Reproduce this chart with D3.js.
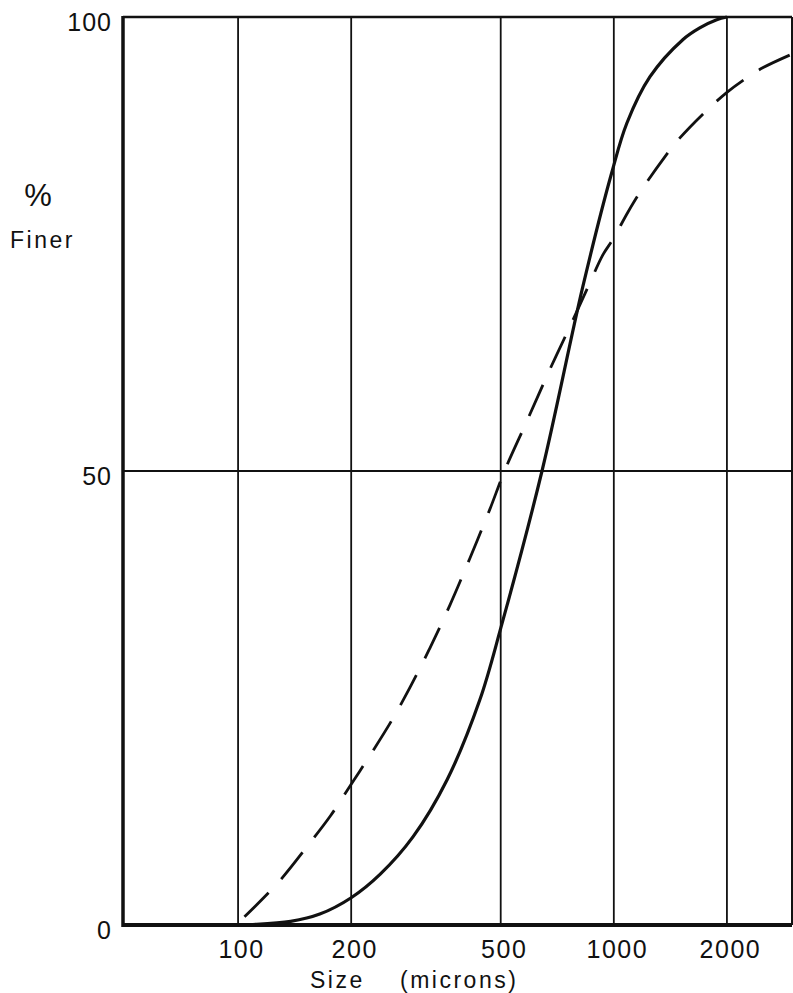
<!DOCTYPE html>
<html>
<head>
<meta charset="utf-8">
<script src="https://cdn.jsdelivr.net/npm/d3@7/dist/d3.min.js"></script>
<style>
  body { margin: 0; background: #fff; }
  svg text { font-family: "Liberation Sans", Arial, sans-serif; fill: #111; }
</style>
</head>
<body>
<svg id="chart" width="793" height="993"></svg>
<script>
// size in microns vs percent finer
var xTicks = [100, 200, 500, 1000, 2000];
var yTicks = [0, 50, 100];

var solidSize = [100, 108, 138, 165, 200, 239, 292, 360, 440, 501, 644, 827, 988, 1083, 1247, 1526, 1693, 1879, 2000];
var solidPct  = [0, 0.05, 0.4, 1.2, 3.0, 5.6, 9.7, 16.0, 24.8, 32.8, 50.0, 70.3, 82.9, 88.3, 93.4, 97.5, 98.8, 99.7, 100];

var dashSize = [104, 128, 155, 176, 200, 227, 257, 287, 324, 366, 414, 468, 513, 587, 676, 778, 863, 935, 994, 1090, 1187, 1367, 1471, 1746, 2000, 2258, 2490, 2938];
var dashPct  = [0.9, 4.7, 9.0, 12.0, 15.5, 19.0, 22.6, 26.2, 30.5, 35.2, 40.4, 45.8, 50.1, 55.5, 61.2, 66.6, 70.7, 73.8, 75.5, 78.5, 81.0, 84.6, 86.3, 89.5, 91.7, 93.3, 94.4, 95.8];

var svg = d3.select("#chart");
var plotLeft = 123, plotRight = 792, plotTop = 17, plotBottom = 925;

var x = d3.scaleLog().domain([49.4, 2980]).range([plotLeft, plotRight]);
var y = d3.scaleLinear().domain([0, 100]).range([plotBottom, plotTop]);
var xMin = x.domain()[0], xMax = x.domain()[1];

// grid lines
svg.selectAll(".vgrid")
    .data(xTicks)
    .enter()
    .append("line")
    .attr("class", "vgrid")
    .attr("x1", function (d) { return x(d); })
    .attr("x2", function (d) { return x(d); })
    .attr("y1", y(0))
    .attr("y2", y(100))
    .attr("stroke", "#111")
    .attr("stroke-width", 1.8);

svg.append("line")
    .attr("x1", x(xMin)).attr("x2", x(xMax))
    .attr("y1", y(50)).attr("y2", y(50))
    .attr("stroke", "#111").attr("stroke-width", 1.8);

// frame
svg.append("line").attr("x1", x(xMin)).attr("x2", x(xMax)).attr("y1", y(100)).attr("y2", y(100))
    .attr("stroke", "#111").attr("stroke-width", 2.5);
svg.append("line").attr("x1", x(xMax)).attr("x2", x(xMax)).attr("y1", y(100)).attr("y2", y(0))
    .attr("stroke", "#111").attr("stroke-width", 2);
svg.append("line").attr("x1", x(xMin)).attr("x2", x(xMin)).attr("y1", y(100) - 1).attr("y2", y(0) + 2)
    .attr("stroke", "#111").attr("stroke-width", 3.5);
svg.append("line").attr("x1", x(xMin) - 1).attr("x2", x(xMax)).attr("y1", y(0)).attr("y2", y(0))
    .attr("stroke", "#111").attr("stroke-width", 4);

// axes (labels only)
var xAxis = d3.axisBottom(x).tickValues(xTicks).tickSize(0).tickPadding(15)
    .tickFormat(d3.format("d"));
var gx = svg.append("g").attr("transform", "translate(3," + plotBottom + ")").call(xAxis);
gx.select(".domain").remove();
gx.selectAll("text").style("font-size", "25px").style("letter-spacing", "1.5px").attr("fill", "#111");

var yAxis = d3.axisLeft(y).tickValues(yTicks).tickSize(0).tickPadding(11);
var gy = svg.append("g").attr("transform", "translate(" + plotLeft + ",5)").call(yAxis);
gy.select(".domain").remove();
gy.selectAll("text").style("font-size", "25px").style("letter-spacing", "1px").attr("fill", "#111");

// axis titles
svg.append("text").attr("x", 38).attr("y", 206).attr("text-anchor", "middle")
    .style("font-size", "31px").text("%");
svg.append("text").attr("x", 10).attr("y", 248)
    .style("font-size", "23px").style("letter-spacing", "2.5px").text("Finer");
svg.append("text").attr("x", 310).attr("y", 988)
    .style("font-size", "23px").style("letter-spacing", "2.5px").text("Size");
svg.append("text").attr("x", 400).attr("y", 988)
    .style("font-size", "23px").style("letter-spacing", "2.5px").text("(microns)");

// curves
var line = d3.line()
    .x(function (d) { return x(d[0]); })
    .y(function (d) { return y(d[1]); })
    .curve(d3.curveCatmullRom.alpha(0.5));

var solid = solidSize.map(function (s, i) { return [s, solidPct[i]]; });
var dashed = dashSize.map(function (s, i) { return [s, dashPct[i]]; });

svg.append("path")
    .attr("d", line(solid))
    .attr("fill", "none")
    .attr("stroke", "#111")
    .attr("stroke-width", 3.2);

var dashPath = svg.append("path")
    .attr("d", line(dashed))
    .attr("fill", "none")
    .attr("stroke", "#111")
    .attr("stroke-width", 2.8);

// stretch the gaps a little so there is a dash at both ends of the curve
var dashLen = 34, gapLen = 18;
var total = dashPath.node().getTotalLength();
var n = Math.round((total + gapLen) / (dashLen + gapLen));
var gap = (total - n * dashLen) / (n - 1);
dashPath.attr("stroke-dasharray", dashLen + "," + gap.toFixed(2));
</script>
</body>
</html>
